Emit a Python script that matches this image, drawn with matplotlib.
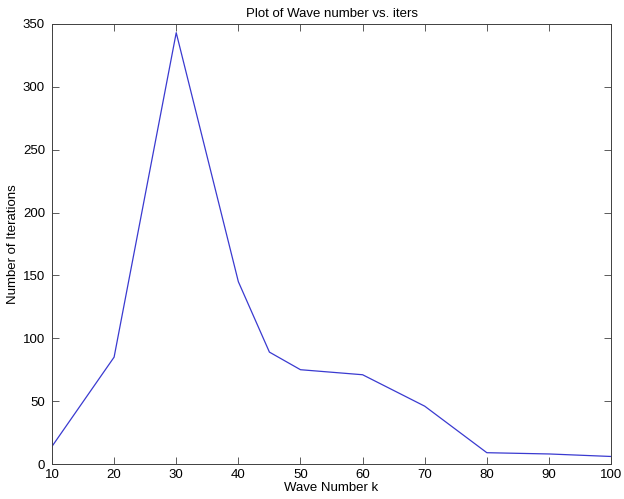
import numpy as np
import matplotlib.pyplot as plt

plt.rcParams['font.family'] = ['Liberation Sans', 'DejaVu Sans']

wave_k = [10, 20, 30, 40, 45, 50, 60, 70, 80, 90, 100]
iters = [14, 85, 343, 145, 89, 75, 71, 46, 9, 8, 6]

fig = plt.figure(figsize=(6.24, 4.99), dpi=100)
ax = fig.add_axes([0.0833, 0.0701, 0.896, 0.882])
ax.plot(wave_k, iters, color='#3a3ad0', lw=0.9)

ax.set_xlim(10, 100)
ax.set_ylim(0, 350)
ax.set_xticks(np.arange(10, 101, 10))
ax.set_yticks(np.arange(0, 351, 50))
ax.tick_params(direction='in', top=True, right=True, labelsize=9.5, length=5,
               width=0.6, color='#404040')
ax.tick_params(axis='y', pad=5)
for s in ax.spines.values():
    s.set_linewidth(0.7)
    s.set_color('#404040')

ax.set_title('Plot of Wave number vs. iters', fontsize=9.5, pad=5)
ax.set_xlabel('Wave Number k', fontsize=9.5, labelpad=1)
ax.set_ylabel('Number of Iterations', fontsize=9.5, labelpad=3)

fig.savefig('out.png', dpi=100)
